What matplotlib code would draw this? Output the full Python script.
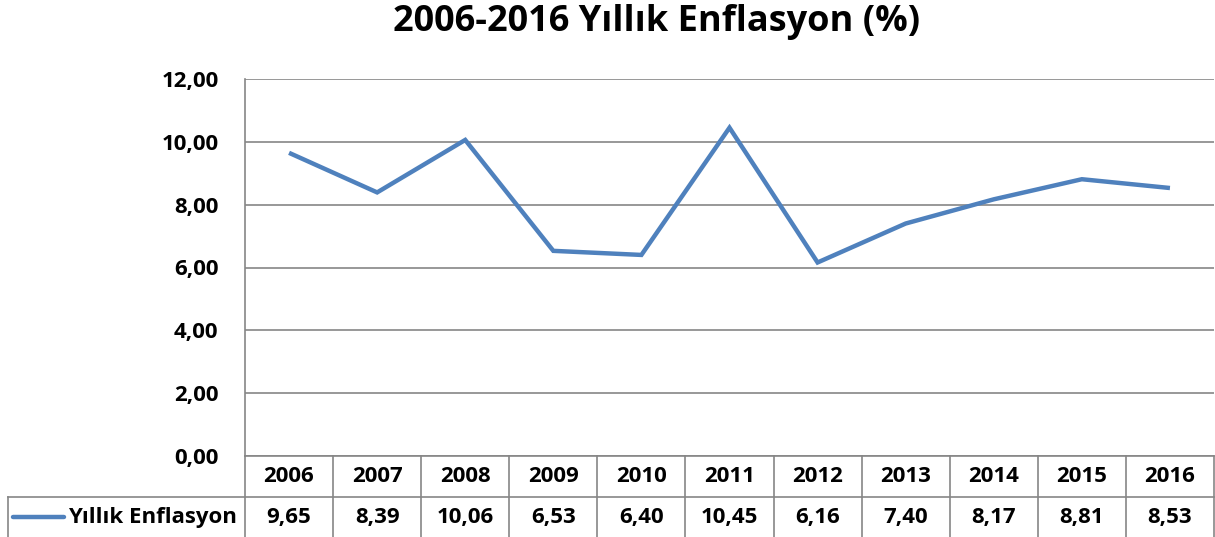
import matplotlib
matplotlib.use("Agg")
import matplotlib.pyplot as plt
import matplotlib.transforms as mtransforms

years = ["2006", "2007", "2008", "2009", "2010", "2011",
         "2012", "2013", "2014", "2015", "2016"]
inflation = [9.65, 8.39, 10.06, 6.53, 6.40, 10.45, 6.16, 7.40, 8.17, 8.81, 8.53]
series_name = "Yıllık Enflasyon"
title = "2006-2016 Yıllık Enflasyon (%)"
yticks = [0, 2, 4, 6, 8, 10, 12]

plt.rcParams['font.family'] = ['Open Sans', 'DejaVu Sans']
plt.rcParams['font.weight'] = 'bold'

W, H = 1215, 537
fig = plt.figure(figsize=(W / 100, H / 100), dpi=100)
# plot area in pixel coords
px_l, px_r, px_t, px_b = 245, 1214, 79, 456
ax = fig.add_axes([px_l / W, 1 - px_b / H, (px_r - px_l) / W, (px_b - px_t) / H])

blue = '#4F81BD'
grid = '#868686'
fs = 16
x = list(range(len(years)))
ax.plot(x, inflation, color=blue, lw=3.2, solid_joinstyle='miter', solid_capstyle='butt', zorder=3)

ax.set_xlim(-0.5, len(years) - 0.5)
ax.set_ylim(0, 12)
ax.set_yticks(yticks)
ax.set_yticklabels([f"{v:.2f}".replace('.', ',') for v in yticks], fontsize=fs, fontweight='bold')
ax.tick_params(axis='y', length=0, pad=19)
ax.set_xticks([])
for v in yticks:
    ax.axhline(v, color=grid, lw=1.2, zorder=1)
for s in ['top', 'right', 'bottom']:
    ax.spines[s].set_visible(False)
ax.spines['left'].set_color(grid)
ax.spines['left'].set_linewidth(1.2)

# data table under the axis
trans = mtransforms.blended_transform_factory(ax.transData, ax.transAxes)
ph = px_b - px_t
def ay(py):
    return (px_b - py) / ph
xpp = len(years) / (px_r - px_l)  # data units per pixel
x_left = -0.5 - (px_l - 8) * xpp
y_head = ay(497)
y_bot = ay(545)
lk = dict(color=grid, lw=1.2, transform=trans, clip_on=False)
# horizontal lines
ax.plot([-0.5, len(years) - 0.5], [ay(456), ay(456)], **lk)
ax.plot([x_left, len(years) - 0.5], [y_head, y_head], **lk)
# vertical lines
for i in range(len(years) + 1):
    ax.plot([i - 0.5, i - 0.5], [ay(456), y_bot], **lk)
ax.plot([x_left, x_left], [y_head, y_bot], **lk)

for i, (yr, v) in enumerate(zip(years, inflation)):
    ax.text(i, ay(477), yr, transform=trans, ha='center', va='center',
            fontsize=fs, fontweight='bold')
    ax.text(i, ay(518), f"{v:.2f}".replace('.', ','), transform=trans,
            ha='center', va='center', fontsize=fs, fontweight='bold')

# legend key
ax.plot([-0.5 - (px_l - 13) * xpp, -0.5 - (px_l - 64) * xpp], [ay(517), ay(517)],
        color=blue, lw=3.2, transform=trans, clip_on=False, solid_capstyle='round')
ax.text(-0.5 - (px_l - 237) * xpp, ay(518), series_name, transform=trans,
        ha='right', va='center', fontsize=fs, fontweight='bold')

fig.text(657 / W, 1 - 22 / H, title, ha='center', va='center', fontsize=26, fontweight='bold')

fig.savefig('out.png', dpi=100, facecolor='white')
